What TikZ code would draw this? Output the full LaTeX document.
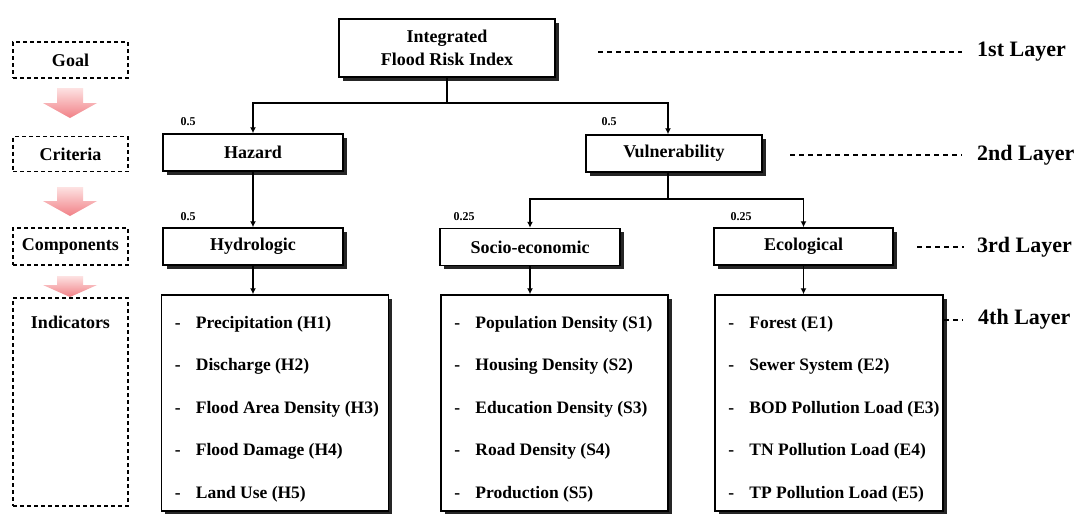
\documentclass[tikz,border=0pt]{standalone}
\usepackage{fontspec}
\setmainfont{Liberation Serif}
\usetikzlibrary{arrows.meta,calc,shadows}

\definecolor{arrowlight}{RGB}{253,226,226}
\definecolor{arrowdeep}{RGB}{241,128,134}

\tikzset{
  box/.style={draw=black, line width=1.5pt, fill=white, inner sep=0pt,
    font=\fontsize{18}{22}\selectfont\bfseries,
    drop shadow={shadow xshift=3.5pt, shadow yshift=-3.5pt, fill=black!85, opacity=1}},
  listbox/.style={box, minimum width=227pt, minimum height=216pt},
  stage/.style={draw=black, line width=1.7pt, dash pattern=on 4pt off 3pt, fill=white,
    minimum width=115pt, inner sep=0pt, font=\fontsize{18}{22}\selectfont\bfseries},
  stagetext/.style={inner sep=0pt, font=\fontsize{18}{22}\selectfont\bfseries},
  item/.style={inner sep=0pt, anchor=west, font=\fontsize{17.5}{21}\selectfont\bfseries},
  weight/.style={inner sep=0pt, font=\fontsize{12}{14}\selectfont\bfseries},
  layer/.style={inner sep=0pt, anchor=west, font=\fontsize{22}{26}\selectfont\bfseries},
  layerline/.style={line width=1.4pt, dash pattern=on 5pt off 4pt},
  link/.style={line width=1.3pt},
  tolink/.style={link, -{Latex[length=6pt,width=6pt]}},
}

\begin{document}
\begin{tikzpicture}[x=1pt,y=-1pt]
\path[use as bounding box, fill=white] (0,0) rectangle (1079,514);

% ---- stage column on the left ----
\node[stage, minimum height=36pt] (goal) at (70.5,60) {Goal};
\node[stage, minimum height=35pt] (crit) at (70.5,154) {Criteria};
\node[stage, minimum height=37pt] (comp) at (70.5,246.5) {Components};
\node[stage, minimum height=208pt] (ind) at (70.5,402) {};
\node[stagetext] (indlabel) at (70.5,322) {Indicators};

% shaded block arrows between the stages
\foreach \ys/\yb/\yt in {88/103/118, 187/201/216, 276/285/297}{
  \shade[top color=arrowlight, bottom color=arrowdeep]
    (57,\ys) -- (83,\ys) -- (83,\yb) -- (97,\yb) -- (70,\yt) -- (43,\yb) -- (57,\yb) -- cycle;
}

% ---- hierarchy ----
\node[box, minimum width=216pt, minimum height=58pt, align=center] (top) at (447,48)
  {Integrated\\[1pt]Flood Risk Index};

\node[box, minimum width=180pt, minimum height=37pt] (hazard) at (253,152.5) {Hazard};
\node[box, minimum width=176pt, minimum height=37pt] (vuln) at (674,153.5) {Vulnerability};

\node[box, minimum width=180pt, minimum height=37pt] (hydro) at (253,246.5) {Hydrologic};
\node[box, minimum width=180pt, minimum height=37pt] (socio) at (530,247) {Socio-economic};
\node[box, minimum width=179pt, minimum height=37pt] (eco) at (803.5,246.5) {Ecological};

\node[listbox] (hbox) at (275,403) {};
\node[listbox] (sbox) at (554.5,403) {};
\node[listbox, minimum width=228pt] (ebox) at (829,403) {};

% indicator lists
\foreach \t [count=\i] in {Precipitation (H1), Discharge (H2), Flood Area Density (H3),
    Flood Damage (H4), Land Use (H5)}{
  \node[item] (h\i) at ($(hbox.north west)+(14,{30+42.5*(\i-1)})$) {\makebox[21pt][l]{-}\t};
}
\foreach \t [count=\i] in {Population Density (S1), Housing Density (S2),
    Education Density (S3), Road Density (S4), Production (S5)}{
  \node[item] (s\i) at ($(sbox.north west)+(14,{30+42.5*(\i-1)})$) {\makebox[21pt][l]{-}\t};
}
\foreach \t [count=\i] in {Forest (E1), Sewer System (E2), BOD Pollution Load (E3),
    TN Pollution Load (E4), TP Pollution Load (E5)}{
  \node[item] (e\i) at ($(ebox.north west)+(14,{30+42.5*(\i-1)})$) {\makebox[21pt][l]{-}\t};
}

% connectors
\coordinate (j1) at (447,103);
\coordinate (va) at (668,0);
\coordinate (j2) at (668,199);
\draw[link] (top.south) -- (j1);
\draw[tolink] (j1) -| (hazard.north);
\draw[tolink] (j1) -| (vuln.north -| va);
\draw[tolink] (hazard.south) -- (hydro.north);
\draw[link] (vuln.south -| va) -- (j2);
\draw[tolink] (j2) -| (socio.north);
\draw[tolink] (j2) -| (eco.north);
\draw[tolink] (hydro.south) -- (hydro.south |- hbox.north);
\draw[tolink] (socio.south) -- (socio.south |- sbox.north);
\draw[tolink] (eco.south) -- (eco.south |- ebox.north);

% weights
\node[weight] (w1) at (188,122) {0.5};
\node[weight] (w2) at (609,122) {0.5};
\node[weight] (w3) at (188,217) {0.5};
\node[weight] (w4) at (464,217) {0.25};
\node[weight] (w5) at (741,217) {0.25};

% layer labels
\node[layer] (l1) at (977,52) {1st Layer};
\node[layer] (l2) at (977,155) {2nd Layer};
\node[layer] (l3) at (977,247) {3rd Layer};
\node[layer] (l4) at (978,319) {4th Layer};
\coordinate (d1) at (598,52);
\coordinate (d2) at (790,155);
\coordinate (d3) at (917,247);
\coordinate (d4) at (944,320);
\draw[layerline] (d1) -- ($(l1.west)+(-15,0)$);
\draw[layerline] (d2) -- ($(l2.west)+(-15,0)$);
\draw[layerline] (d3) -- ($(l3.west)+(-13,0)$);
\draw[layerline] (d4) -- ($(l4.west)+(-15,1)$);
\end{tikzpicture}
\end{document}
